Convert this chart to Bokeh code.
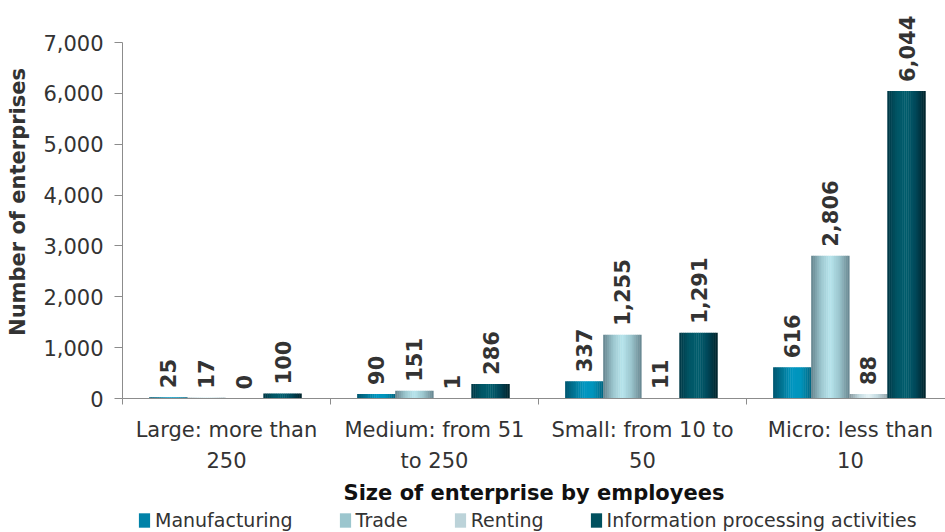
import numpy as np
from bokeh.plotting import figure
from bokeh.layouts import column
from bokeh.models import (FixedTicker, NumeralTickFormatter, Legend, LegendItem,
                          Range1d, ColumnDataSource)
from bokeh.embed import file_html
from bokeh.resources import INLINE
from bokeh.core.properties import value

# ---- data ----
categories = ["Large: more than\n250", "Medium: from 51\nto 250",
              "Small: from 10 to\n50", "Micro: less than\n10"]
series = ["Manufacturing", "Trade", "Renting", "Information processing activities"]
manufacturing = [25, 90, 337, 616]
trade = [17, 151, 1255, 2806]
renting = [0, 1, 11, 88]
information = [100, 286, 1291, 6044]
y_ticks = [0, 1000, 2000, 3000, 4000, 5000, 6000, 7000]
y_max = 7000

values_by_series = [manufacturing, trade, renting, information]

# ---- styling: gradient stops per series (left edge -> right edge) ----
stops = [
    ["#005a74", "#007898", "#0096c0", "#0094bc", "#006884"],
    ["#6a8a94", "#9cc6ce", "#b6e4ec", "#9cc6ce", "#6a8a94"],
    ["#8c9ea4", "#c4dbe1", "#e4f3f6", "#c4dbe1", "#98aab0"],
    ["#003a48", "#005666", "#005d6d", "#00485a", "#00262e"],
]
legend_colors = ["#0082a8", "#9cc6ce", "#bcd3d9", "#00505e"]


def hex2rgb(h):
    h = h.lstrip("#")
    return np.array([int(h[i:i + 2], 16) for i in (0, 2, 4)], dtype=float)


def gradient(stop_list, n):
    pts = np.linspace(0, 1, len(stop_list))
    cols = np.array([hex2rgb(s) for s in stop_list])
    out = []
    for t in np.linspace(0, 1, n):
        rgb = [np.interp(t, pts, cols[:, k]) for k in range(3)]
        out.append("#%02x%02x%02x" % tuple(int(round(v)) for v in rgb))
    return out


FONT = "DejaVu Sans"
TXT = "#333333"
AX = "#8c8c8c"

# frame: 0 -> y=398, 7000 -> y=42, frame top at y=5
FRAME_TOP = 5
px_per_unit = (398 - 42) / y_max
top_val = y_max + (42 - FRAME_TOP) / px_per_unit

p = figure(frame_width=823, frame_height=398 - FRAME_TOP,
           x_range=Range1d(0, 3.957), y_range=Range1d(0, top_val),
           output_backend="svg", toolbar_location=None,
           min_border_left=122, min_border_top=FRAME_TOP, min_border_right=0,
           min_border_bottom=108)
p.outline_line_color = None
p.xgrid.visible = False
p.ygrid.visible = False

bw = 0.183
NS = 20
idx = np.arange(len(categories))
for j, vals in enumerate(values_by_series):
    centers = idx + 0.495 + (j - 1.5) * bw
    cols = gradient(stops[j], NS)
    sw = bw / NS
    for s in range(NS):
        xs = centers - bw / 2 + (s + 0.5) * sw
        p.vbar(x=xs, top=vals, width=sw * 1.2, bottom=0, fill_color=cols[s],
               line_color=None)
    src = ColumnDataSource(dict(x=centers, y=vals, t=["{:,}".format(v) for v in vals]))
    p.text(x="x", y="y", text="t", source=src, angle=np.pi / 2, y_offset=-9,
           text_align="left", text_baseline="middle",
           text_font=value(FONT), text_font_style="bold", text_font_size="21px",
           text_color=TXT)

# y axis
p.yaxis.ticker = FixedTicker(ticks=y_ticks)
p.yaxis.bounds = (0, y_max)
p.yaxis.formatter = NumeralTickFormatter(format="0,0")
p.yaxis.major_label_text_font = FONT
p.yaxis.major_label_text_font_size = "21px"
p.yaxis.major_label_text_color = TXT
p.yaxis.major_label_standoff = 11
p.yaxis.axis_line_color = AX
p.yaxis.major_tick_line_color = AX
p.yaxis.major_tick_out = 8
p.yaxis.major_tick_in = 0
p.yaxis.minor_tick_line_color = None
p.yaxis.axis_label = "Number of enterprises"
p.yaxis.axis_label_text_font = FONT
p.yaxis.axis_label_text_font_style = "bold"
p.yaxis.axis_label_text_font_size = "21px"
p.yaxis.axis_label_text_color = TXT
p.yaxis.axis_label_standoff = 10

# x axis: labels at category centres, tick marks at category boundaries
centers = [i + 0.5 for i in range(len(categories))]
p.xaxis.ticker = FixedTicker(ticks=centers, minor_ticks=list(range(len(categories) + 1)))
p.xaxis.major_label_overrides = {c: lab for c, lab in zip(centers, categories)}
p.xaxis.major_label_text_font = FONT
p.xaxis.major_label_text_font_size = "21px"
p.xaxis.major_label_text_color = TXT
p.xaxis.major_label_text_line_height = 1.3
p.xaxis.major_tick_line_color = None
p.xaxis.major_tick_out = 6
p.xaxis.minor_tick_line_color = AX
p.xaxis.minor_tick_out = 6
p.xaxis.minor_tick_in = 0
p.xaxis.axis_line_color = AX
p.xaxis.major_label_standoff = 13
p.xaxis.axis_label = "Size of enterprise by employees"
p.xaxis.axis_label_text_font = FONT
p.xaxis.axis_label_text_font_style = "bold"
p.xaxis.axis_label_text_font_size = "21px"
p.xaxis.axis_label_text_color = "#111111"
p.xaxis.axis_label_standoff = 5

# ---- legend strip below the chart ----
lg = figure(width=945, height=26, x_range=Range1d(0, 1), y_range=Range1d(0, 1),
            output_backend="svg", toolbar_location=None,
            x_axis_location=None, y_axis_location=None,
            min_border_left=0, min_border_right=0, min_border_top=0,
            min_border_bottom=0)
lg.outline_line_color = None
lg.xgrid.visible = False
lg.ygrid.visible = False
items = []
for j, name in enumerate(series):
    r = lg.vbar(x=[-10], top=[0], width=0.1, fill_color=legend_colors[j], line_color=None)
    items.append(LegendItem(label=name, renderers=[r]))
# the column aligns this frame with the chart frame (left edge at x=122)
legend = Legend(items=items, orientation="horizontal", location=(15, 2),
                label_text_font=FONT, label_text_font_size="19px",
                label_text_color=TXT, glyph_width=14, glyph_height=18,
                spacing=45, padding=0, margin=0, label_standoff=4,
                border_line_color=None, background_fill_alpha=0)
lg.add_layout(legend, "center")

layout = column(p, lg, spacing=0)
open("out.html", "w").write(file_html(layout, INLINE))
